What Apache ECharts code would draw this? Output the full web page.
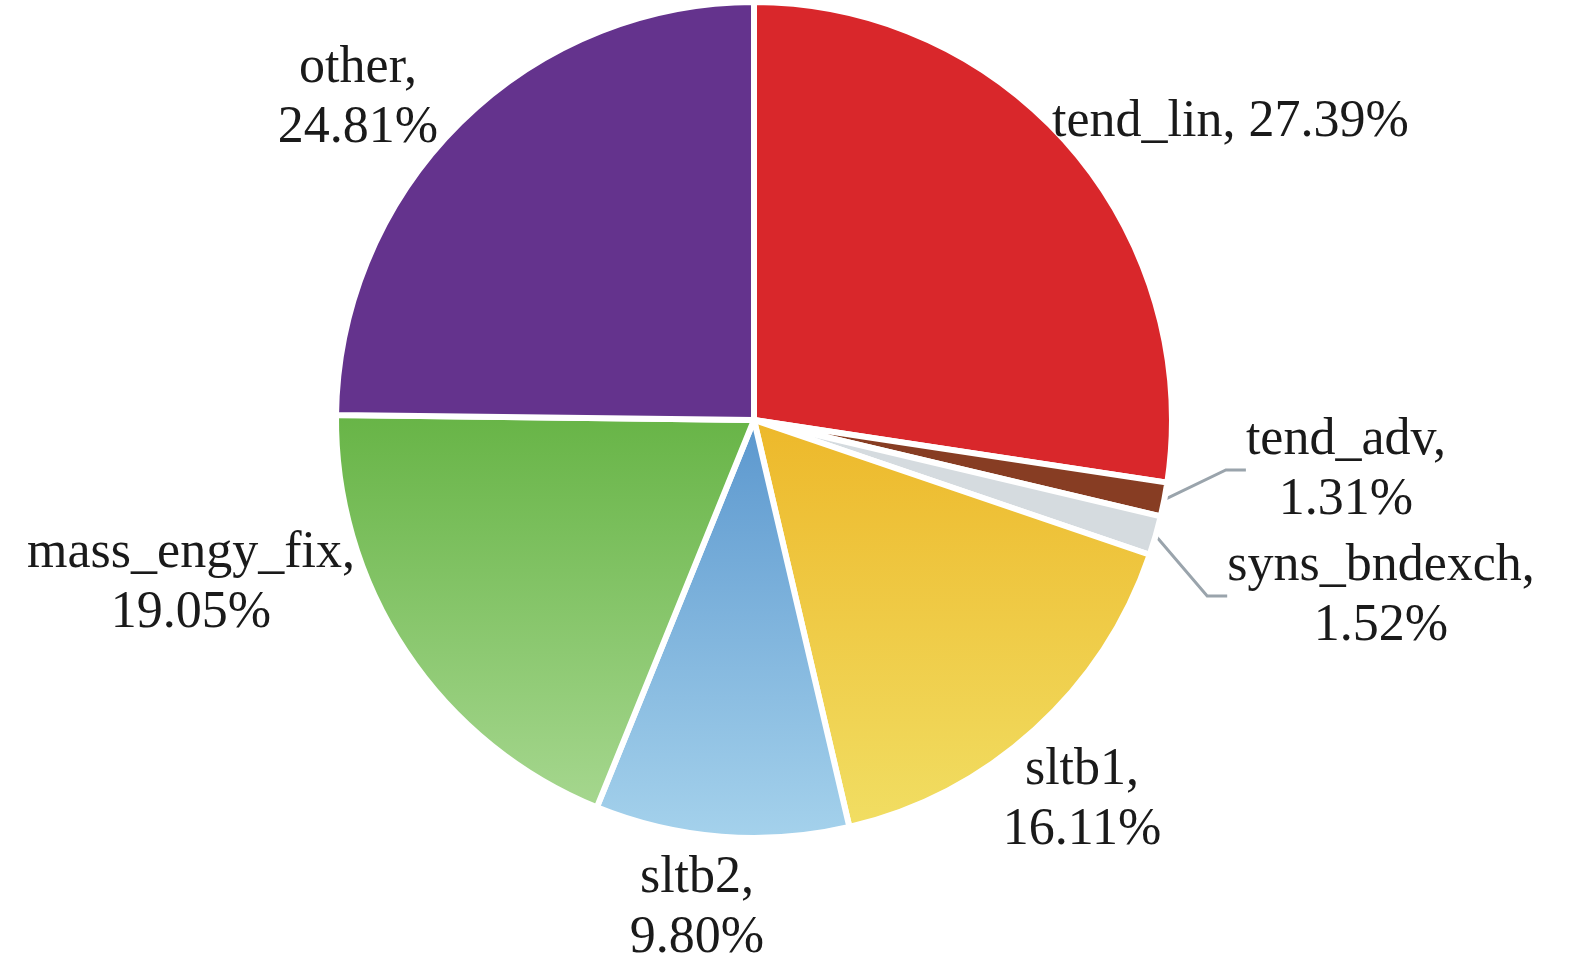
<!DOCTYPE html>
<html>
	<head>
		<meta charset="UTF-8">
		<title>pie</title>
		<script type="text/javascript" src="https://cdn.jsdelivr.net/npm/echarts@6/dist/echarts.min.js"></script>
		<style>
			html, body { margin: 0; padding: 0; background: #fff; }
			#chart { width: 1575px; height: 978px; }
		</style>
	</head>
	<body>
		<div id="chart"></div>
		<script>
		// 数据
		var names = ['tend_lin', 'tend_adv', 'syns_bndexch', 'sltb1', 'sltb2', 'mass_engy_fix', 'other'];
		var values = [27.39, 1.31, 1.52, 16.11, 9.80, 19.05, 24.81];
		var labels = ['tend_lin, 27.39%', 'tend_adv,\n1.31%', 'syns_bndexch,\n1.52%', 'sltb1,\n16.11%', 'sltb2,\n9.80%', 'mass_engy_fix,\n19.05%', 'other,\n24.81%'];

		// 颜色（上 -> 下渐变）
		var colorTop = ['#d9272b', '#873d23', '#d5dbdf', '#edb82a', '#5b97ce', '#67b446', '#64338d'];
		var colorBottom = ['#d9272b', '#873d23', '#d5dbdf', '#f1de63', '#a5d2ec', '#a6d78f', '#64338d'];

		// 标签位置（像素）
		var labelPos = [
			[1052, 122, 'left'],
			[1346, 470, 'center'],
			[1381, 596, 'center'],
			[1082, 800, 'center'],
			[697, 908, 'center'],
			[191, 583, 'center'],
			[358, 98, 'center']
		];
		var showLine = [false, true, true, false, false, false, false];

		function buildData() {
			var data = [];
			for (var i = 0; i < names.length; i++) {
				data.push({
					name: names[i],
					value: values[i],
					itemStyle: {
						color: {
							type: 'linear', x: 0, y: 0, x2: 0, y2: 1,
							colorStops: [
								{ offset: 0, color: colorTop[i] },
								{ offset: 1, color: colorBottom[i] }
							]
						}
					},
					label: { formatter: labels[i] },
					labelLine: { show: showLine[i] }
				});
			}
			return data;
		}

		var myChart = echarts.init(document.getElementById('chart'));
		myChart.setOption({
			animation: false,
			series: [{
				type: 'pie',
				center: [754, 420],
				radius: 418,
				startAngle: 90,
				clockwise: true,
				avoidLabelOverlap: false,
				itemStyle: {
					borderColor: '#fff',
					borderWidth: 6
				},
				label: {
					show: true,
					position: 'outside',
					fontFamily: 'Liberation Serif',
					fontSize: 52,
					lineHeight: 60,
					color: '#1a1a1a'
				},
				labelLine: {
					length: 20,
					length2: 20,
					lineStyle: { color: '#9aa4ac', width: 3 }
				},
				labelLayout: function (params) {
					var p = labelPos[params.dataIndex];
					return { x: p[0], y: p[1], align: p[2], verticalAlign: 'middle' };
				},
				data: buildData()
			}]
		});
		</script>
	</body>
</html>
